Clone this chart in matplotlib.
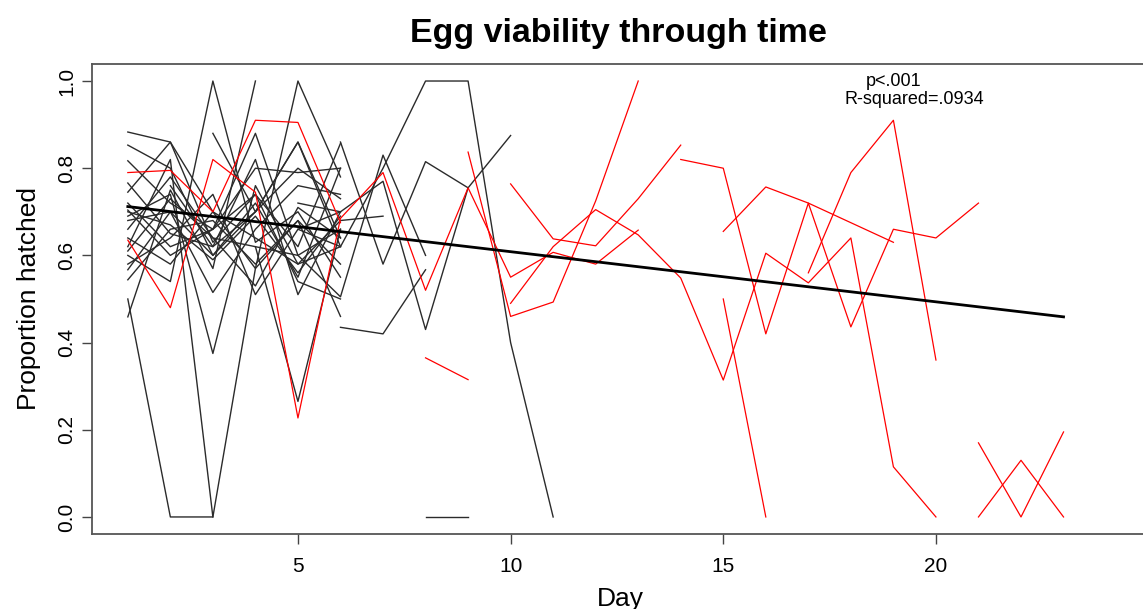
import numpy as np
import matplotlib.pyplot as plt

plt.rcParams['font.family'] = ['Liberation Sans', 'DejaVu Sans']

# proportion hatched per clutch, one list per female, first day in *_start
black_start = [1, 1, 1, 1, 1, 1, 1, 1, 1, 1, 1, 1, 1, 1, 1, 1, 1, 1, 2, 3, 4, 6, 5, 6, 5, 8, 1, 1]
b01 = [0.883, 0.86, 0.63, 0.74, 0.62, 0.857]
b02 = [0.853, 0.80, 0.60, 0.72, 0.55, 0.80]
b03 = [0.817, 0.72, 0.66, 0.88, 0.60, 0.66]
b04 = [0.766, 0.65, 0.62, 0.70, 0.86, 0.62]
b05 = [0.745, 0.86, 0.70, 0.57, 1.00, 0.78]
b06 = [0.704, 0.60, 0.66, 0.80, 0.79, 0.80]
b07 = [0.69, 0.74, 0.375, 0.76, 0.58, 0.62]
b08 = [0.66, 0.78, 0.64, 0.62, 0.265, 0.66]
b09 = [0.62, 0.82, 0.0]
b10 = [0.50, 0.0, 0.0, 0.57, 0.68, 0.58]
b11 = [0.459, 0.75, 0.57, 1.00]
b12 = [0.567, 0.70, 0.515, 0.66, 0.76, 0.74]
b13 = [0.544, 0.66, 0.68, 0.58, 0.68, 0.46]
b14 = [0.60, 0.54, 1.00, 0.63, 0.70, 0.55]
b15 = [0.72, 0.62, 0.66, 0.74, 0.54, 0.50]
b16 = [0.68, 0.70, 0.60, 0.70, 0.80, 0.73]
b17 = [0.58, 0.64, 0.74, 0.51, 0.66, 0.70]
b18 = [0.64, 0.58, 0.70, 0.64, 0.58, 0.68, 0.69]
b19 = [0.76, 0.62, 0.82, 0.51, 0.70]
b20 = [0.88, 0.70, 0.86, 0.64]
b21 = [0.62, 0.60, 0.505, 0.83, 0.60]
b22 = [0.435, 0.42, 0.567]
b23 = [0.66, 0.62, 0.80, 1.0, 1.0, 0.40, 0.0]
b24 = [0.86, 0.58, 0.815, 0.755, 0.875]
b25 = [0.72, 0.70, 0.77, 0.43, 0.755]
b26 = [0.0, 0.0]
b27 = [0.70, 0.67, 0.59, 0.69, 0.56, 0.69]
b28 = [0.61, 0.73, 0.64, 0.53, 0.71, 0.64]
black = [b01, b02, b03, b04, b05, b06, b07, b08, b09, b10, b11, b12, b13, b14,
         b15, b16, b17, b18, b19, b20, b21, b22, b23, b24, b25, b26, b27, b28]

red_start = [1, 1, 8, 9, 10, 10, 14, 15, 15, 17, 21, 21]
r01 = [0.635, 0.48, 0.82, 0.745, 0.227, 0.685, 0.79, 0.52, 0.755, 0.55, 0.607, 0.58, 0.658]
r02 = [0.79, 0.795, 0.70, 0.91, 0.905, 0.675]
r03 = [0.365, 0.315]
r04 = [0.837, 0.46, 0.493, 0.725, 1.0]
r05 = [0.49, 0.62, 0.705, 0.647, 0.548, 0.314, 0.605, 0.537, 0.64, 0.115, 0.0]
r06 = [0.764, 0.638, 0.622, 0.73, 0.853]
r07 = [0.82, 0.80, 0.42, 0.72, 0.436, 0.66, 0.64, 0.72]
r08 = [0.655, 0.757, 0.72, 0.675, 0.63]
r09 = [0.50, 0.0]
r10 = [0.56, 0.79, 0.91, 0.36]
r11 = [0.17, 0.0, 0.195]
r12 = [0.0, 0.13, 0.0]
red = [r01, r02, r03, r04, r05, r06, r07, r08, r09, r10, r11, r12]

# fitted line read at its ends
fit_days = [1, 23]
fit_vals = [0.712, 0.459]

fig = plt.figure(figsize=(11.43, 6.09), dpi=100)
ax = fig.add_axes([0.0802, 0.1225, 0.9247, 0.7731])

for start, vals in zip(black_start, black):
    d = np.arange(start, start + len(vals))
    ax.plot(d, vals, color='#2b2b2b', linewidth=1.0)

for start, vals in zip(red_start, red):
    d = np.arange(start, start + len(vals))
    ax.plot(d, vals, color='red', linewidth=0.9)

ax.plot(fit_days, fit_vals, color='black', linewidth=2.0)

ax.set_xlim(0.15, 25.0)
ax.set_ylim(-0.04, 1.04)
ax.set_xticks([5, 10, 15, 20])
ax.set_yticks([0.0, 0.2, 0.4, 0.6, 0.8, 1.0])
ax.set_yticklabels(['0.0', '0.2', '0.4', '0.6', '0.8', '1.0'], rotation=90, va='center')
ax.tick_params(direction='out', length=7, width=1.0, color='#444444', labelsize=15)
ax.tick_params(axis='x', pad=9)
ax.tick_params(axis='y', pad=4)
for s in ax.spines.values():
    s.set_color('#555555')
    s.set_linewidth(1.3)

ax.set_xlabel('Day', fontsize=19, labelpad=8)
ax.set_ylabel('Proportion hatched', fontsize=19, labelpad=12)
fig.text(0.5415, 0.945, 'Egg viability through time', fontsize=24.5, fontweight='bold',
         ha='center', va='center')

ax.text(19.0, 0.998, 'p<.001', fontsize=13, ha='center', va='center')
ax.text(19.5, 0.958, 'R-squared=.0934', fontsize=13, ha='center', va='center')

fig.savefig('out.png', dpi=100)
